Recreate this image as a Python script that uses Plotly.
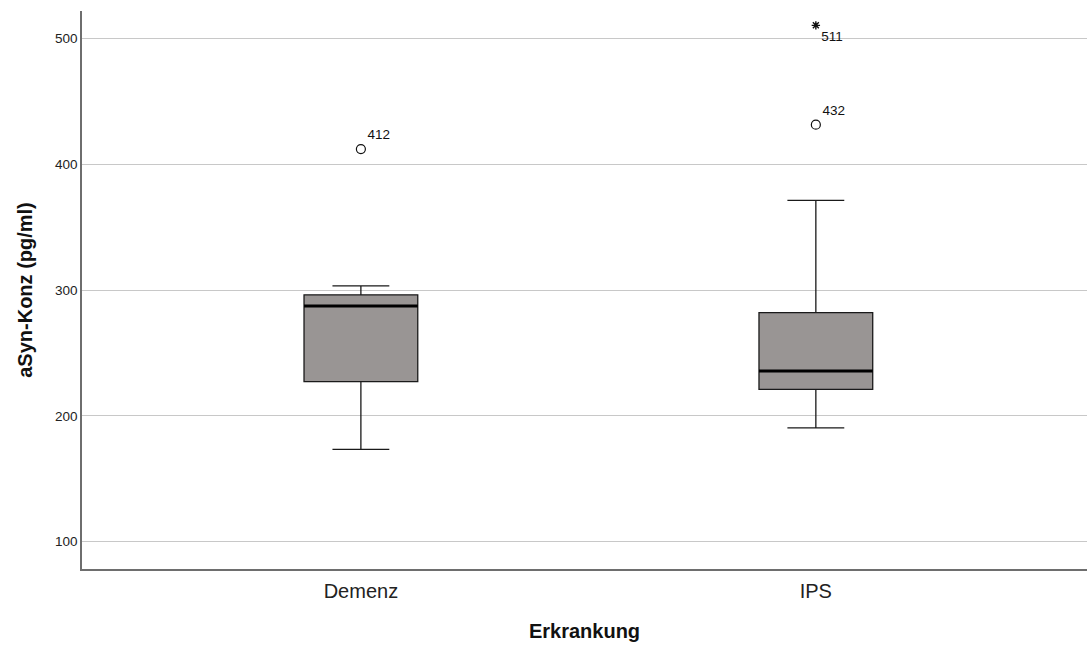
import plotly.graph_objects as go

# Group labels and five-number summaries (pg/ml)
groups = ["Demenz", "IPS"]
lower_whisker = [173.5, 190.5]
q1 = [227.3, 221.2]
median = [287.5, 235.8]
q3 = [296.3, 282.2]
upper_whisker = [303.5, 371.4]

# Outliers (circles) and extreme values (stars) with case labels
outlier_group = [0, 1]
outlier_value = [412.2, 431.6]
outlier_label = ["412", "432"]
extreme_group = [1]
extreme_value = [510.6]
extreme_label = ["511"]

y_ticks = [100, 200, 300, 400, 500]

box_fill = "#999594"
line_col = "#1a1a1a"
font_family = "Arial, Liberation Sans, sans-serif"
half = 0.125

fig = go.Figure()

for i, g in enumerate(groups):
    fig.add_trace(go.Box(
        x=[i],
        q1=[q1[i]], median=[median[i]], q3=[q3[i]],
        lowerfence=[lower_whisker[i]], upperfence=[upper_whisker[i]],
        width=2 * half,
        whiskerwidth=0.5,
        fillcolor=box_fill,
        line=dict(color=line_col, width=1.3),
        boxpoints=False,
        showlegend=False,
        hoverinfo="skip",
    ))
    # heavier median bar
    fig.add_trace(go.Scatter(
        x=[i - half, i + half], y=[median[i], median[i]],
        mode="lines", line=dict(color="#000000", width=3),
        showlegend=False, hoverinfo="skip",
    ))

fig.add_trace(go.Scatter(
    x=outlier_group, y=outlier_value, mode="markers+text",
    marker=dict(symbol="circle-open", size=9, color="#111111", line=dict(width=1.2)),
    text=outlier_label, textposition="top right",
    textfont=dict(family=font_family, size=13.5, color="#111111"),
    showlegend=False, hoverinfo="skip",
))
fig.add_trace(go.Scatter(
    x=extreme_group, y=extreme_value, mode="markers+text",
    marker=dict(symbol="asterisk-open", size=7, color="#111111", line=dict(width=1.4, color="#111111")),
    text=extreme_label, textposition="bottom right",
    textfont=dict(family=font_family, size=13.5, color="#111111"),
    showlegend=False, hoverinfo="skip",
))

fig.update_layout(
    width=1087, height=646,
    margin=dict(l=82, r=0, t=11, b=77),
    paper_bgcolor="white", plot_bgcolor="white",
    font=dict(family=font_family, color="#222222"),
    xaxis=dict(
        range=[-0.613, 1.596],
        tickvals=[0, 1], ticktext=groups,
        tickfont=dict(size=20, color="#222222"),
        showgrid=False, zeroline=False,
        showline=True, linecolor="#6e6e6e", linewidth=1.5,
        ticks="", ticklen=0,
        ticklabelstandoff=3,
        title=dict(text="<b>Erkrankung</b>", font=dict(size=20, color="#111111"), standoff=23),
    ),
    yaxis=dict(
        range=[78.3, 522],
        tickvals=y_ticks,
        tickfont=dict(size=13.5, color="#222222"),
        showgrid=True, gridcolor="#c8c8c8", gridwidth=1,
        zeroline=False,
        showline=True, linecolor="#6e6e6e", linewidth=1.5,
        ticks="", ticklen=0,
        title=dict(text="<b>aSyn-Konz (pg/ml)</b>", font=dict(size=20, color="#111111"), standoff=17),
    ),
)

fig.write_html("out.html")
